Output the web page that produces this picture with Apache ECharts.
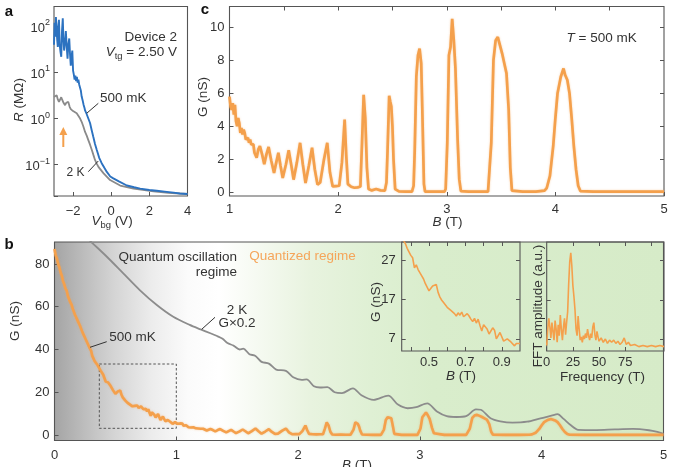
<!DOCTYPE html>
<html><head><meta charset="utf-8">
<script src="https://cdn.jsdelivr.net/npm/echarts@6/dist/echarts.min.js"></script>
<style>html,body{margin:0;padding:0;background:#fff}#c{width:680px;height:467px}</style>
</head><body><div id="c"></div>
<script>
// ---------- Panel a: R vs V_bg ----------
const aBlueV = [-3.00,-2.97,-2.93,-2.90,-2.86,-2.83,-2.80,-2.78,-2.74,-2.70,
  -2.66,-2.62,-2.58,-2.54,-2.51,-2.47,-2.42,-2.38,-2.33,-2.29,
  -2.25,-2.20,-2.16,-2.12,-2.08,-2.04,-2.00,-1.96,-1.92,-1.88,
  -1.84,-1.80,-1.76,-1.72,-1.68,-1.63,-1.59,-1.55,-1.50,-1.45,
  -1.40,-1.37,-1.32,-1.28,-1.20,-1.11,-1.02,-0.94,-0.85,-0.76,
  -0.63,-0.50,-0.36,-0.23,-0.05,0.11,0.40,0.82,1.20,1.52,
  2.00,2.39,2.80,3.27,3.60,4.00];
const aBlueR = [40,120,60,160,170,50,36,90,140,40,
  28,22,80,150,60,30,45,80,35,20,
  40,55,25,14,22,30,11,9,7,8.5,
  6.5,8,6,7,5.5,5.9,4,3,2.5,2,
  1.7,1.5,1.35,1.3,1.0,0.8,0.55,0.4,0.28,0.21,
  0.14,0.107,0.085,0.069,0.055,0.05,0.043,0.035,0.032,0.030,
  0.028,0.027,0.0258,0.0245,0.0235,0.0229];
const aGrayV = [-3.00,-2.93,-2.86,-2.80,-2.74,-2.68,-2.62,-2.56,-2.50,-2.42,
  -2.36,-2.30,-2.25,-2.18,-2.12,-2.07,-2.00,-1.95,-1.90,-1.81,
  -1.72,-1.63,-1.55,-1.46,-1.37,-1.28,-1.20,-1.11,-1.02,-0.93,
  -0.85,-0.76,-0.67,-0.41,-0.06,0.47,1.17,2.22,3.00,4.00];
const aGrayR = [2.95,2.7,3.2,2.6,2.3,2.5,2.9,2.5,2.2,1.95,
  2.2,2.4,2.3,1.8,1.6,1.5,1.45,1.5,1.4,1.3,
  1.2,1.0,0.85,0.67,0.51,0.42,0.34,0.27,0.21,0.16,
  0.126,0.105,0.089,0.065,0.046,0.035,0.030,0.026,0.0243,0.0229];
const aXTicks = [-2,0,2,4];

// ---------- Panel c: G vs B at 500 mK (1–5 T) ----------
const cB = [1.00,1.01,1.02,1.03,1.04,1.05,1.06,1.07,1.08,1.09,
 1.10,1.11,1.12,1.13,1.14,1.15,1.16,1.17,1.18,1.19,
 1.20,1.21,1.22,1.23,1.25,1.265,1.28,1.30,1.32,1.34,
 1.36,1.385,1.41,1.43,1.45,1.47,1.49,1.52,1.545,1.57,
 1.59,1.62,1.65,1.675,1.70,1.73,1.76,1.785,1.81,1.835,
 1.87,1.90,1.925,1.95,1.98,2.01,2.035,2.06,2.075,2.09,
 2.12,2.15,2.18,2.205,2.22,2.235,2.25,2.265,2.28,2.31,
 2.35,2.39,2.43,2.445,2.455,2.47,2.48,2.49,2.50,2.51,
 2.525,2.56,2.62,2.68,2.695,2.705,2.72,2.735,2.75,2.765,
 2.775,2.79,2.80,2.85,2.92,2.98,2.99,3.005,3.02,3.035,
 3.05,3.065,3.08,3.10,3.115,3.13,3.20,3.30,3.38,3.39,
 3.41,3.43,3.45,3.47,3.49,3.51,3.53,3.55,3.57,3.585,
 3.60,3.70,3.82,3.90,3.92,3.95,3.98,4.00,4.02,4.05,
 4.075,4.09,4.11,4.13,4.15,4.17,4.19,4.21,4.23,4.35,
 4.55,4.75,5.00];
const cG = [5.8,5.2,5.0,5.4,4.7,5.3,4.3,4.0,4.5,4.2,
 3.6,3.9,3.5,3.8,3.6,3.2,3.1,3.3,3.0,3.2,
 2.9,2.8,2.9,2.4,2.1,2.6,2.8,2.3,1.7,2.3,
 2.75,1.9,1.17,1.8,2.4,1.6,0.87,1.7,2.55,1.6,
 0.77,1.8,3.0,1.7,0.57,1.6,2.7,1.4,0.47,0.6,
 2.0,3.0,1.2,0.36,0.38,0.4,1.8,4.4,2.2,0.5,
 0.34,0.28,0.3,0.35,3.0,5.9,4.5,1.5,0.2,0.12,
 0.2,0.12,0.1,0.6,2.5,5.85,5.5,5.2,4.0,2.0,
 0.2,0.06,0.05,0.05,0.4,2.5,7.0,8.3,8.7,7.8,
 5.0,0.5,0.05,0.04,0.05,0.05,0.2,3.0,8.3,8.8,
 10.5,9.2,7.5,3.2,0.8,0.08,0.04,0.04,0.05,0.15,
 3.0,8.0,9.2,9.4,8.9,8.4,7.8,7.2,5.0,1.5,
 0.1,0.04,0.05,0.1,0.25,1.0,2.8,4.5,6.0,7.0,
 7.5,7.1,6.8,6.0,4.5,2.8,1.4,0.4,0.08,0.05,
 0.04,0.05,0.05];
const cYTicks = [0,2,4,6,8,10];
const cTopTicks = [1.5,2,2.5,3,3.5,4,4.5];
const cRightTicks = [2,4,6,8,10];

// ---------- Panel b: G vs B, 0–1 T part of 500 mK curve ----------
const bLowB = [0.00,0.01,0.02,0.03,0.04,0.05,0.06,0.07,0.08,0.09,
 0.10,0.11,0.12,0.13,0.14,0.15,0.16,0.17,0.18,0.19,
 0.20,0.21,0.22,0.23,0.24,0.25,0.26,0.27,0.28,0.29,
 0.30,0.31,0.32,0.33,0.34,0.35,0.36,0.37,0.38,0.39,
 0.40,0.41,0.42,0.43,0.44,0.45,0.46,0.47,0.48,0.49,
 0.50,0.51,0.52,0.53,0.54,0.55,0.56,0.57,0.58,0.59,
 0.60,0.61,0.62,0.63,0.64,0.65,0.66,0.67,0.68,0.69,
 0.70,0.71,0.72,0.73,0.74,0.75,0.76,0.77,0.78,0.79,
 0.80,0.81,0.82,0.83,0.84,0.85,0.86,0.87,0.88,0.89,
 0.90,0.91,0.92,0.93,0.94,0.95,0.96,0.97,0.98,0.99];
const bLowG = [87,84,82.5,80,78.5,76,74.5,72,70.5,68.5,
 67.5,65,64.5,62,61,59,58.5,56,55.5,53.5,
 53,51,50.5,48,48,45.5,45,43,42.5,40.5,
 39.5,37,37,34.5,34,33.0,32.0,31.2,30.0,29.6,
 28.2,27.6,25.0,25.8,24.6,24.8,23.0,22.2,21.0,20.6,
 19.2,19.6,20.4,20.0,20.8,18.8,17.6,16.8,16.2,15.8,
 15.0,15.4,14.2,14.6,13.4,12.8,13.6,13.0,13.8,12.6,
 12.4,13.4,12.8,12.0,11.4,12.2,11.0,12.0,10.4,9.0,
 10.6,11.0,9.4,8.2,8.0,9.8,9.2,7.0,7.4,8.6,
 8.2,6.4,6.0,7.0,7.4,6.2,5.8,5.2,5.8,6.0];
// 2 K curve (G x 0.2)
const b2KB = [0.25,0.30,0.43,0.565,0.70,0.84,0.975,1.11,1.20,1.28,
 1.33,1.38,1.42,1.47,1.52,1.55,1.60,1.65,1.70,1.76,
 1.82,1.90,1.96,2.03,2.07,2.13,2.18,2.24,2.30,2.36,
 2.45,2.52,2.62,2.74,2.82,2.90,2.97,3.06,3.14,3.22,
 3.30,3.38,3.46,3.50,3.58,3.66,3.76,3.88,3.99,4.08,
 4.13,4.18,4.24,4.30,4.45,4.60,4.75,4.88,4.95,5.00];
const b2KG = [93.2,90.4,83.4,75.6,67.8,60.8,55.3,51.5,49.4,47.6,
 46.4,45.0,43.0,41.8,40.0,40.4,37.8,37.0,34.2,33.4,
 30.6,30.0,27.0,25.8,26.0,22.8,22.2,22.4,20.0,19.6,
 21.8,18.6,16.4,18.4,14.2,12.5,13.0,14.8,11.0,8.8,
 8.4,8.8,12.0,11.8,7.8,6.4,5.8,6.2,7.8,9.0,
 9.7,7.5,4.5,2.4,2.3,2.6,2.8,2.2,1.4,0.5];
const bYTicks = [0,20,40,60,80];
const zoomBox = [[0.368, 33.2],[1.0, 3.1]];
// inset 1 ticks
const i1XTicks = [0.5,0.7,0.9];
const i1TopTicks = [0.4,0.5,0.6,0.7,0.8,0.9];
const i1YTicks = [7,17,27];
// inset 2: FFT
const fftF = [0,1,2,3,4,5,6,7,8,9,10,11,12,13,14,15,16,17,18,19,
 20,21,22,23,24,25,26,27,28,29,30,31,32,33,34,35,36,37,38,39,
 40,41,42,43,44,45,46,47,48,49,50,
 52,54,56,58,60,62,64,66,68,70,72,74,76,78,80,
 84,88,92,96,100,104,108,112];
const fftA = [0.05,0.2,0.3,0.22,0.12,0.26,0.18,0.1,0.28,0.2,
 0.08,0.24,0.14,0.33,0.2,0.1,0.22,0.3,0.15,0.26,
 0.36,0.62,0.82,0.9,0.78,0.6,0.5,0.38,0.2,0.14,
 0.32,0.2,0.1,0.13,0.08,0.14,0.11,0.16,0.12,0.2,
 0.14,0.1,0.16,0.12,0.22,0.26,0.15,0.1,0.18,0.13,0.09,
 0.12,0.08,0.11,0.07,0.1,0.08,0.1,0.07,0.09,0.06,0.08,0.12,0.06,0.08,0.05,
 0.06,0.04,0.05,0.04,0.05,0.04,0.05,0.04];
const i2XTicks = [0,25,50,75];
const i2TopTicks = [25,50,75,100];
const i2YTicks = [0.11,0.47,0.83];

// ---------- build ----------
const FF = '"Liberation Sans", Arial, Helvetica, sans-serif';
const TXT = '#333';
const FRAME = '#555';
const ORANGE = '#f4a04c';
const zip = (x, y) => x.map((v, i) => [v, y[i]]);
const minus = v => (v < 0 ? '\u2212' + (-v) : '' + v);

const bB = bLowB.concat(cB), bG = bLowG.concat(cG);
const inset1Data = zip(bB, bG).filter(p => p[0] >= 0.34 && p[0] <= 1.0);

function gridOf(l, t, w, h, bg) {
  return {left: l, top: t, width: w, height: h, show: true, containLabel: false,
          backgroundColor: bg || 'transparent', borderColor: FRAME, borderWidth: 1.1};
}
function ax(o) {
  const base = {
    type: 'value', axisLine: {show: false, onZero: false}, splitLine: {show: false},
    axisTick: {show: true, inside: true, length: 4, lineStyle: {color: FRAME, width: 1}},
    axisLabel: {show: true, color: TXT, fontSize: 13, fontFamily: FF}
  };
  const r = Object.assign({}, base, o);
  r.axisTick = Object.assign({}, base.axisTick, o.axisTick || {});
  r.axisLabel = Object.assign({}, base.axisLabel, o.axisLabel || {});
  return r;
}
const bgGrad = {type: 'linear', x: 0, y: 0, x2: 1, y2: 0, colorStops: [
  {offset: 0, color: '#a4a4a4'}, {offset: 0.05, color: '#bdbdbd'},
  {offset: 0.1, color: '#d5d5d5'}, {offset: 0.16, color: '#ececec'},
  {offset: 0.22, color: '#fbfbfb'}, {offset: 0.27, color: '#ffffff'},
  {offset: 0.33, color: '#f6faf2'}, {offset: 0.42, color: '#e8f3df'},
  {offset: 0.52, color: '#dff0d4'}, {offset: 0.62, color: '#d9edcc'},
  {offset: 1, color: '#d6ebc8'}]};

function T(x, y, text, style, rot) {
  const o = {type: 'text', x: x, y: y, silent: true, z: 100,
    style: Object.assign({text: text, fontFamily: FF, fontSize: 13.5, fill: TXT,
      align: 'center', verticalAlign: 'middle'}, style || {})};
  if (rot) o.rotation = rot;
  return o;
}
const rt = (size) => ({
  i: {fontFamily: FF, fontSize: size, fontStyle: 'italic', fill: TXT, lineHeight: 16, verticalAlign: 'top'},
  n: {fontFamily: FF, fontSize: size, fill: TXT, lineHeight: 16, verticalAlign: 'top'},
  s: {fontFamily: FF, fontSize: size * 0.7, fill: TXT, lineHeight: 8, verticalAlign: 'bottom'}
});
function L(x1, y1, x2, y2, c, w) {
  return {type: 'line', silent: true, z: 100, shape: {x1, y1, x2, y2},
    style: {stroke: c || '#333', lineWidth: w || 1}};
}

const option = {
  animation: false,
  backgroundColor: '#fff',
  textStyle: {fontFamily: FF},
  grid: [
    gridOf(54, 6.5, 133.5, 189.5, '#fff'),
    gridOf(229.5, 6.5, 434.5, 189.5, '#fff'),
    gridOf(54.5, 242, 609, 198.5, bgGrad),
    gridOf(401.7, 242, 118.3, 109),
    gridOf(546.7, 242, 117.3, 109)
  ],
  xAxis: [
    ax({gridIndex: 0, min: -3, max: 4,
        axisTick: {customValues: aXTicks},
        axisLabel: {customValues: aXTicks, margin: 8.5, formatter: v => minus(v)}}),
    ax({gridIndex: 1, min: 1, max: 5, interval: 1, axisLabel: {margin: 7}}),
    ax({gridIndex: 1, min: 1, max: 5, position: 'top', axisTick: {customValues: cTopTicks},
        axisLabel: {show: false}}),
    ax({gridIndex: 2, min: 0, max: 5, interval: 1, axisLabel: {margin: 8}}),
    ax({gridIndex: 3, min: 0.35, max: 1.0, axisTick: {customValues: i1TopTicks},
        axisLabel: {customValues: i1XTicks, margin: 5, formatter: v => v.toFixed(1)}}),
    ax({gridIndex: 3, min: 0.35, max: 1.0, position: 'top', axisTick: {customValues: i1TopTicks},
        axisLabel: {show: false}}),
    ax({gridIndex: 4, min: 0, max: 112, axisTick: {customValues: i2XTicks},
        axisLabel: {customValues: i2XTicks, margin: 5}}),
    ax({gridIndex: 4, min: 0, max: 112, position: 'top', axisTick: {customValues: i2TopTicks},
        axisLabel: {show: false}})
  ],
  yAxis: [
    ax({gridIndex: 0, type: 'log', logBase: 10, min: 0.0207, max: 272,
        axisLabel: {margin: 4, formatter: v => {
          const e = Math.log10(v), r = Math.round(e);
          if (Math.abs(e - r) > 0.02) return '';
          return '{b|10}{s|' + minus(r) + '}';
        }, rich: {
          b: {fontSize: 13, fontFamily: FF, color: TXT, lineHeight: 16, verticalAlign: 'bottom'},
          s: {fontSize: 9, fontFamily: FF, color: TXT, lineHeight: 6, verticalAlign: 'top'}
        }}}),
    ax({gridIndex: 1, min: -0.22, max: 11.25, axisTick: {customValues: cYTicks},
        axisLabel: {customValues: cYTicks, margin: 5}}),
    ax({gridIndex: 1, min: -0.22, max: 11.25, position: 'right', axisTick: {customValues: cRightTicks},
        axisLabel: {show: false}}),
    ax({gridIndex: 2, min: -2.6, max: 90.3, axisTick: {customValues: bYTicks},
        axisLabel: {customValues: bYTicks, margin: 5}}),
    ax({gridIndex: 3, min: 3.9, max: 31.6, axisTick: {customValues: i1YTicks},
        axisLabel: {customValues: i1YTicks, margin: 6}}),
    ax({gridIndex: 3, min: 3.9, max: 31.6, position: 'right', axisTick: {customValues: i1YTicks},
        axisLabel: {show: false}}),
    ax({gridIndex: 4, min: 0, max: 1, axisTick: {customValues: i2YTicks}, axisLabel: {show: false}}),
    ax({gridIndex: 4, min: 0, max: 1, position: 'right', axisTick: {customValues: i2YTicks},
        axisLabel: {show: false}})
  ],
  series: [
    {type: 'line', xAxisIndex: 0, yAxisIndex: 0, data: zip(aGrayV, aGrayR), symbol: 'none',
     lineStyle: {color: '#8a8a8a', width: 1.8}},
    {type: 'line', xAxisIndex: 0, yAxisIndex: 0, data: zip(aBlueV, aBlueR), symbol: 'none',
     lineStyle: {color: '#2c72c0', width: 1.9}},
    {type: 'line', xAxisIndex: 1, yAxisIndex: 1, data: zip(cB, cG), symbol: 'none',
     lineStyle: {color: ORANGE, width: 2.7, shadowBlur: 2, shadowColor: 'rgba(244,160,76,0.5)'}},
    {type: 'line', xAxisIndex: 3, yAxisIndex: 3, data: zip(b2KB, b2KG), symbol: 'none', smooth: 0.3,
     lineStyle: {color: '#8c8c8c', width: 1.8}},
    {type: 'line', xAxisIndex: 3, yAxisIndex: 3, data: zip(bB, bG), symbol: 'none',
     lineStyle: {color: ORANGE, width: 2.6, shadowBlur: 2, shadowColor: 'rgba(244,160,76,0.5)'},
     markArea: {silent: true, z: 1,
       itemStyle: {color: 'rgba(0,0,0,0)', borderColor: '#555', borderWidth: 1, borderType: [2.5, 2]},
       data: [[{coord: zoomBox[0]}, {coord: zoomBox[1]}]]}},
    {type: 'line', xAxisIndex: 4, yAxisIndex: 4, data: inset1Data, symbol: 'none',
     lineStyle: {color: ORANGE, width: 1.6}},
    {type: 'line', xAxisIndex: 6, yAxisIndex: 6, data: zip(fftF, fftA), symbol: 'none',
     lineStyle: {color: ORANGE, width: 1.6}}
  ],
  graphic: [
    // panel letters
    T(9, 12, 'a', {fontWeight: 'bold', fontSize: 15, fill: '#111'}),
    T(205, 10, 'c', {fontWeight: 'bold', fontSize: 15, fill: '#111'}),
    T(9, 245, 'b', {fontWeight: 'bold', fontSize: 15, fill: '#111'}),
    // panel a
    T(20, 100, '{i|R}{n| (M\u03A9)}', {rich: rt(13.5)}, Math.PI / 2),
    T(112, 222, '{i|V}{s|bg}{n| (V)}', {rich: rt(13.5)}),
    T(177, 37, 'Device 2', {align: 'right'}),
    T(177, 53, '{i|V}{s|tg}{n| = 2.50 V}', {align: 'right', rich: rt(13.5)}),
    T(100, 98, '500 mK', {align: 'left'}),
    L(86.7, 113.3, 98.3, 103.3),
    T(66.5, 173, '2 K', {align: 'left', fontSize: 12}),
    L(88.3, 171.7, 98.3, 161),
    L(63.3, 147, 63.3, 133, ORANGE, 2),
    {type: 'polygon', silent: true, z: 100, shape: {points: [[59.3, 135], [67.3, 135], [63.3, 127]]},
     style: {fill: ORANGE}},
    // panel c
    T(203, 97, 'G (nS)', {}, Math.PI / 2),
    T(447.5, 223, '{i|B}{n| (T)}', {rich: rt(13.5)}),
    T(601.7, 39, '{i|T}{n| = 500 mK}', {rich: rt(13.5)}),
    // panel b
    T(15, 321, 'G (nS)', {}, Math.PI / 2),
    T(357, 466, '{i|B}{n| (T)}', {rich: rt(13.5)}),
    T(237, 257.7, 'Quantum oscillation', {align: 'right'}),
    T(237, 272.7, 'regime', {align: 'right'}),
    T(249.3, 256.7, 'Quantized regime', {align: 'left', fill: '#f5a55a'}),
    T(237, 310, '2 K'),
    T(237, 323.5, 'G\u00d70.2'),
    L(201.7, 329.3, 215, 317.3),
    T(109.3, 337.3, '500 mK', {align: 'left'}),
    L(90, 347.3, 106.7, 341.7),
    // insets
    T(376, 302, 'G (nS)', {}, Math.PI / 2),
    T(461, 377, '{i|B}{n| (T)}', {rich: rt(13.5)}),
    T(538, 306, 'FFT amplitude (a.u.)', {}, Math.PI / 2),
    T(602.5, 377, 'Frequency (T)')
  ]
};
const chart = echarts.init(document.getElementById('c'), null, {renderer: 'canvas'});
chart.setOption(option);
</script>
</body></html>
